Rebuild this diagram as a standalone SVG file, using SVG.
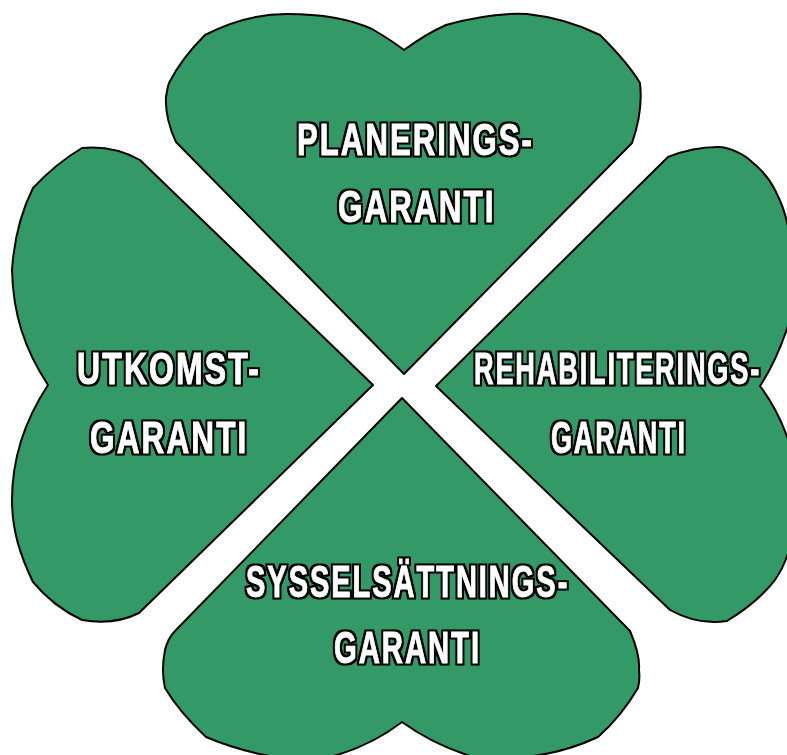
<svg xmlns="http://www.w3.org/2000/svg" width="787" height="755" viewBox="0 0 787 755">
<defs>
<filter id="outline" x="-5%" y="-20%" width="110%" height="140%" color-interpolation-filters="sRGB">
<feMorphology in="SourceAlpha" operator="dilate" radius="1.5" result="d"/>
<feFlood flood-color="#000"/>
<feComposite in2="d" operator="in" result="b"/>
<feMerge><feMergeNode in="b"/><feMergeNode in="SourceGraphic"/></feMerge>
</filter>
</defs>
<style>
.leaf{fill:#339966;stroke:#000;stroke-width:2;stroke-linejoin:round}
.l{filter:url(#outline)}
.t{font-family:"Liberation Sans",Arial,sans-serif;font-weight:700;font-size:45px;letter-spacing:3px;fill:#fff;stroke:#fff;stroke-width:1;stroke-linejoin:miter}
</style>
<rect width="787" height="755" fill="#fff"/>
<g id="planerings">
<path class="leaf" d="M404,374 L176,142 C170,130 165,112 166,97 C167,90 168,86 169,83 C178,65 190,50 205,35 C230,22 258,14 287,14 C320,14 350,19 372,29 C384,36 395,43 404,50 C415,42 428,33 446,25 C475,17 505,13 527,14 C555,17 580,25 600,35 C615,50 630,66 640,83 C642,100 640,120 632,143 Z"/>
<g class="l"><text class="t" transform="translate(297,155) scale(.82,1)" textLength="289" lengthAdjust="spacingAndGlyphs">PLANERINGS-</text></g>
<g class="l"><text class="t" transform="translate(338,222) scale(.8,1)" textLength="197" lengthAdjust="spacingAndGlyphs">GARANTI</text></g>
</g>
<g id="rehabiliterings">
<path class="leaf" d="M436,386 L668,157 C683,151 700,147 718,147 C730,147 745,155 752,162 C762,170 770,180 775,190 C780,200 785,210 790,235 L790,320 C782,345 772,368 760,386 C772,402 782,420 790,445 L790,545 C787,560 782,570 775,580 C762,597 745,610 727,621 C708,624 688,620 670,610 Z"/>
<g class="l"><text class="t" transform="translate(474,384) scale(.62,1)" textLength="463" lengthAdjust="spacingAndGlyphs">REHABILITERINGS-</text></g>
<g class="l"><text class="t" transform="translate(551,453) scale(.7,1)" textLength="194" lengthAdjust="spacingAndGlyphs">GARANTI</text></g>
</g>
<g id="utkomst">
<path class="leaf" d="M373,385 L139,613 C125,620 105,624 82,620 C65,612 48,600 33,582 C20,555 12,530 12,500 C12,460 25,420 48,385 C25,350 13,315 12,270 C14,240 22,210 33,188 C48,172 65,158 82,148 C102,146 122,150 140,160 Z"/>
<g class="l"><text class="t" transform="translate(77,384) scale(.8,1)" textLength="230" lengthAdjust="spacingAndGlyphs">UTKOMST-</text></g>
<g class="l"><text class="t" transform="translate(90,453) scale(.8,1)" textLength="198" lengthAdjust="spacingAndGlyphs">GARANTI</text></g>
</g>
<g id="sysselsattnings">
<path class="leaf" d="M402,398 L630,631 C636,645 640,658 639,670 C640,678 639,684 638,688 C628,705 615,722 598,737 C570,750 540,757 510,758 L470,756 C445,748 420,735 402,722 C385,735 360,749 330,757 L270,756 C248,752 225,745 206,737 C190,722 175,705 165,688 C162,675 163,660 165,650 C167,642 170,636 175,631 Z"/>
<g class="l"><text class="t" transform="translate(246,597) scale(.75,1)" textLength="431" lengthAdjust="spacingAndGlyphs">SYSSELSÄTTNINGS-</text></g>
<g class="l"><text class="t" transform="translate(334,663) scale(.75,1)" textLength="196" lengthAdjust="spacingAndGlyphs">GARANTI</text></g>
</g>
<g id="connectors"></g>
</svg>
